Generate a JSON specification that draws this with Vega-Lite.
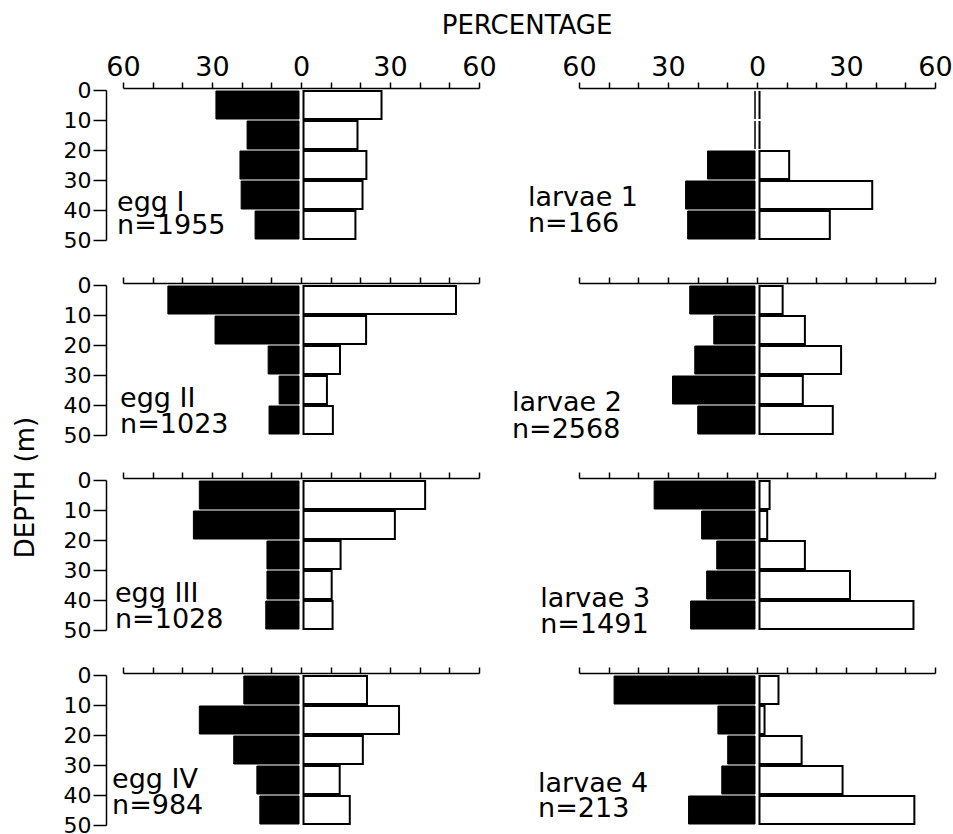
{
  "$schema": "https://vega.github.io/schema/vega-lite/v6.json",
  "background": "white",
  "padding": {"left": 12, "top": 13, "right": 5, "bottom": 5},
  "title": {"text": "PERCENTAGE", "font": "DejaVu Sans", "fontSize": 26, "fontWeight": "normal", "color": "black", "anchor": "middle", "frame": "bounds", "dx": 45, "offset": 14},
  "config": {
    "view": {"stroke": null},
    "font": "DejaVu Sans",
    "axis": {"domainColor": "black", "tickColor": "black", "labelColor": "black", "titleColor": "black", "labelFont": "DejaVu Sans", "titleFont": "DejaVu Sans", "titleFontWeight": "normal", "grid": false, "domainWidth": 1.5, "tickWidth": 1.5, "labelOverlap": false}
  },
  "datasets": {
    "bars": [
      {"panel": "egg I", "series": "filled", "top": 0, "bottom": 10, "pct": 28.0},
      {"panel": "egg I", "series": "filled", "top": 10, "bottom": 20, "pct": 17.5},
      {"panel": "egg I", "series": "filled", "top": 20, "bottom": 30, "pct": 19.9},
      {"panel": "egg I", "series": "filled", "top": 30, "bottom": 40, "pct": 19.5},
      {"panel": "egg I", "series": "filled", "top": 40, "bottom": 50, "pct": 14.8},
      {"panel": "egg I", "series": "open", "top": 0, "bottom": 10, "pct": 26.3},
      {"panel": "egg I", "series": "open", "top": 10, "bottom": 20, "pct": 18.2},
      {"panel": "egg I", "series": "open", "top": 20, "bottom": 30, "pct": 21.2},
      {"panel": "egg I", "series": "open", "top": 30, "bottom": 40, "pct": 19.9},
      {"panel": "egg I", "series": "open", "top": 40, "bottom": 50, "pct": 17.5},
      {"panel": "egg II", "series": "filled", "top": 0, "bottom": 10, "pct": 44.2},
      {"panel": "egg II", "series": "filled", "top": 10, "bottom": 20, "pct": 28.3},
      {"panel": "egg II", "series": "filled", "top": 20, "bottom": 30, "pct": 10.4},
      {"panel": "egg II", "series": "filled", "top": 30, "bottom": 40, "pct": 6.7},
      {"panel": "egg II", "series": "filled", "top": 40, "bottom": 50, "pct": 10.1},
      {"panel": "egg II", "series": "open", "top": 0, "bottom": 10, "pct": 51.4},
      {"panel": "egg II", "series": "open", "top": 10, "bottom": 20, "pct": 21.1},
      {"panel": "egg II", "series": "open", "top": 20, "bottom": 30, "pct": 12.3},
      {"panel": "egg II", "series": "open", "top": 30, "bottom": 40, "pct": 7.9},
      {"panel": "egg II", "series": "open", "top": 40, "bottom": 50, "pct": 9.9},
      {"panel": "egg III", "series": "filled", "top": 0, "bottom": 10, "pct": 33.6},
      {"panel": "egg III", "series": "filled", "top": 10, "bottom": 20, "pct": 35.6},
      {"panel": "egg III", "series": "filled", "top": 20, "bottom": 30, "pct": 10.8},
      {"panel": "egg III", "series": "filled", "top": 30, "bottom": 40, "pct": 10.8},
      {"panel": "egg III", "series": "filled", "top": 40, "bottom": 50, "pct": 11.2},
      {"panel": "egg III", "series": "open", "top": 0, "bottom": 10, "pct": 41.0},
      {"panel": "egg III", "series": "open", "top": 10, "bottom": 20, "pct": 30.8},
      {"panel": "egg III", "series": "open", "top": 20, "bottom": 30, "pct": 12.5},
      {"panel": "egg III", "series": "open", "top": 30, "bottom": 40, "pct": 9.5},
      {"panel": "egg III", "series": "open", "top": 40, "bottom": 50, "pct": 9.8},
      {"panel": "egg IV", "series": "filled", "top": 0, "bottom": 10, "pct": 18.6},
      {"panel": "egg IV", "series": "filled", "top": 10, "bottom": 20, "pct": 33.6},
      {"panel": "egg IV", "series": "filled", "top": 20, "bottom": 30, "pct": 22.0},
      {"panel": "egg IV", "series": "filled", "top": 30, "bottom": 40, "pct": 14.2},
      {"panel": "egg IV", "series": "filled", "top": 40, "bottom": 50, "pct": 13.2},
      {"panel": "egg IV", "series": "open", "top": 0, "bottom": 10, "pct": 21.4},
      {"panel": "egg IV", "series": "open", "top": 10, "bottom": 20, "pct": 32.2},
      {"panel": "egg IV", "series": "open", "top": 20, "bottom": 30, "pct": 20.0},
      {"panel": "egg IV", "series": "open", "top": 30, "bottom": 40, "pct": 12.2},
      {"panel": "egg IV", "series": "open", "top": 40, "bottom": 50, "pct": 15.6},
      {"panel": "larvae 1", "series": "filled", "top": 0, "bottom": 10, "pct": 0},
      {"panel": "larvae 1", "series": "filled", "top": 10, "bottom": 20, "pct": 0},
      {"panel": "larvae 1", "series": "filled", "top": 20, "bottom": 30, "pct": 16.0},
      {"panel": "larvae 1", "series": "filled", "top": 30, "bottom": 40, "pct": 23.4},
      {"panel": "larvae 1", "series": "filled", "top": 40, "bottom": 50, "pct": 22.7},
      {"panel": "larvae 1", "series": "open", "top": 0, "bottom": 10, "pct": 0},
      {"panel": "larvae 1", "series": "open", "top": 10, "bottom": 20, "pct": 0},
      {"panel": "larvae 1", "series": "open", "top": 20, "bottom": 30, "pct": 10.0},
      {"panel": "larvae 1", "series": "open", "top": 30, "bottom": 40, "pct": 38.0},
      {"panel": "larvae 1", "series": "open", "top": 40, "bottom": 50, "pct": 23.7},
      {"panel": "larvae 2", "series": "filled", "top": 0, "bottom": 10, "pct": 22.0},
      {"panel": "larvae 2", "series": "filled", "top": 10, "bottom": 20, "pct": 13.9},
      {"panel": "larvae 2", "series": "filled", "top": 20, "bottom": 30, "pct": 20.3},
      {"panel": "larvae 2", "series": "filled", "top": 30, "bottom": 40, "pct": 27.8},
      {"panel": "larvae 2", "series": "filled", "top": 40, "bottom": 50, "pct": 19.3},
      {"panel": "larvae 2", "series": "open", "top": 0, "bottom": 10, "pct": 7.8},
      {"panel": "larvae 2", "series": "open", "top": 10, "bottom": 20, "pct": 15.3},
      {"panel": "larvae 2", "series": "open", "top": 20, "bottom": 30, "pct": 27.5},
      {"panel": "larvae 2", "series": "open", "top": 30, "bottom": 40, "pct": 14.6},
      {"panel": "larvae 2", "series": "open", "top": 40, "bottom": 50, "pct": 24.7},
      {"panel": "larvae 3", "series": "filled", "top": 0, "bottom": 10, "pct": 34.0},
      {"panel": "larvae 3", "series": "filled", "top": 10, "bottom": 20, "pct": 18.0},
      {"panel": "larvae 3", "series": "filled", "top": 20, "bottom": 30, "pct": 12.9},
      {"panel": "larvae 3", "series": "filled", "top": 30, "bottom": 40, "pct": 16.3},
      {"panel": "larvae 3", "series": "filled", "top": 40, "bottom": 50, "pct": 21.7},
      {"panel": "larvae 3", "series": "open", "top": 0, "bottom": 10, "pct": 3.4},
      {"panel": "larvae 3", "series": "open", "top": 10, "bottom": 20, "pct": 2.6},
      {"panel": "larvae 3", "series": "open", "top": 20, "bottom": 30, "pct": 15.3},
      {"panel": "larvae 3", "series": "open", "top": 30, "bottom": 40, "pct": 30.5},
      {"panel": "larvae 3", "series": "open", "top": 40, "bottom": 50, "pct": 51.9},
      {"panel": "larvae 4", "series": "filled", "top": 0, "bottom": 10, "pct": 47.5},
      {"panel": "larvae 4", "series": "filled", "top": 10, "bottom": 20, "pct": 12.5},
      {"panel": "larvae 4", "series": "filled", "top": 20, "bottom": 30, "pct": 9.2},
      {"panel": "larvae 4", "series": "filled", "top": 30, "bottom": 40, "pct": 11.2},
      {"panel": "larvae 4", "series": "filled", "top": 40, "bottom": 50, "pct": 22.4},
      {"panel": "larvae 4", "series": "open", "top": 0, "bottom": 10, "pct": 6.4},
      {"panel": "larvae 4", "series": "open", "top": 10, "bottom": 20, "pct": 1.7},
      {"panel": "larvae 4", "series": "open", "top": 20, "bottom": 30, "pct": 14.2},
      {"panel": "larvae 4", "series": "open", "top": 30, "bottom": 40, "pct": 28.0},
      {"panel": "larvae 4", "series": "open", "top": 40, "bottom": 50, "pct": 52.2}
    ],
    "labels": [
      {"panel": "egg I", "name": "egg  I", "n": "n=1955"},
      {"panel": "egg II", "name": "egg  II", "n": "n=1023"},
      {"panel": "egg III", "name": "egg  III", "n": "n=1028"},
      {"panel": "egg IV", "name": "egg  IV", "n": "n=984"},
      {"panel": "larvae 1", "name": "larvae  1", "n": "n=166"},
      {"panel": "larvae 2", "name": "larvae  2", "n": "n=2568"},
      {"panel": "larvae 3", "name": "larvae  3", "n": "n=1491"},
      {"panel": "larvae 4", "name": "larvae  4", "n": "n=213"}
    ]
  },
  "columns": 2,
  "spacing": {"row": 45, "column": 100},
  "bounds": "flush",
  "concat": [
    {
      "width": 356, "height": 150,
      "layer": [
        {"data": {"name": "bars"}, "transform": [{"filter": "datum.panel === 'egg I' && datum.series === 'filled'"}],
         "mark": {"type": "bar", "fill": "black", "stroke": "black", "strokeWidth": 1, "xOffset": -2, "x2Offset": -2, "yOffset": 1, "y2Offset": -1},
         "encoding": {"x": {"field": "pct", "type": "quantitative", "scale": {"domain": [-60, 60], "reverse": true}, "axis": null}, "x2": {"datum": 0},
           "y": {"field": "top", "type": "quantitative", "scale": {"domain": [0, 50], "reverse": true}, "axis": {"orient": "left", "offset": 17, "values": [0, 10, 20, 30, 40, 50], "tickSize": 13, "labelPadding": 2, "labelFontSize": 22, "title": null}}, "y2": {"field": "bottom"}}},
        {"data": {"name": "bars"}, "transform": [{"filter": "datum.panel === 'egg I' && datum.series === 'open'"}],
         "mark": {"type": "bar", "fill": "white", "stroke": "black", "strokeWidth": 2, "xOffset": 2.5, "x2Offset": 2.5, "yOffset": 1, "y2Offset": -1},
         "encoding": {"x": {"field": "pct", "type": "quantitative", "scale": {"domain": [-60, 60]}, "axis": {"orient": "top", "offset": 2, "values": [-60, -50, -40, -30, -20, -10, 0, 10, 20, 30, 40, 50, 60], "labelExpr": "datum.value % 30 === 0 ? format(abs(datum.value), 'd') : ''", "tickSize": 6, "labelPadding": 1, "labelFontSize": 27, "labelFlush": false, "title": null}}, "x2": {"datum": 0},
           "y": {"field": "top", "type": "quantitative", "axis": {"orient": "left", "offset": 17, "values": [0, 10, 20, 30, 40, 50], "tickSize": 13, "labelPadding": 2, "labelFontSize": 22, "title": null}}, "y2": {"field": "bottom"}}},
        {"data": {"name": "labels"}, "transform": [{"filter": "datum.panel === 'egg I'"}],
         "mark": {"type": "text", "align": "left", "baseline": "middle", "fontSize": 27, "font": "DejaVu Sans", "color": "black"},
         "encoding": {"x": {"datum": -62, "type": "quantitative", "scale": {"domain": [-60, 60]}, "axis": null}, "y": {"datum": 37.6, "type": "quantitative", "axis": {"orient": "left", "offset": 17, "values": [0, 10, 20, 30, 40, 50], "tickSize": 13, "labelPadding": 2, "labelFontSize": 22, "title": null}}, "text": {"field": "name"}}},
        {"data": {"name": "labels"}, "transform": [{"filter": "datum.panel === 'egg I'"}],
         "mark": {"type": "text", "align": "left", "baseline": "middle", "fontSize": 27, "font": "DejaVu Sans", "color": "black"},
         "encoding": {"x": {"datum": -62, "type": "quantitative", "scale": {"domain": [-60, 60]}, "axis": null}, "y": {"datum": 45.3, "type": "quantitative", "axis": {"orient": "left", "offset": 17, "values": [0, 10, 20, 30, 40, 50], "tickSize": 13, "labelPadding": 2, "labelFontSize": 22, "title": null}}, "text": {"field": "n"}}}
      ],
      "resolve": {"scale": {"x": "independent"}}
    },
    {
      "width": 356, "height": 150,
      "layer": [
        {"data": {"name": "bars"}, "transform": [{"filter": "datum.panel === 'larvae 1' && datum.series === 'filled'"}],
         "mark": {"type": "bar", "fill": "black", "stroke": "black", "strokeWidth": 1, "xOffset": -2, "x2Offset": -2, "yOffset": 1, "y2Offset": -1},
         "encoding": {"x": {"field": "pct", "type": "quantitative", "scale": {"domain": [-60, 60], "reverse": true}, "axis": null}, "x2": {"datum": 0},
           "y": {"field": "top", "type": "quantitative", "scale": {"domain": [0, 50], "reverse": true}, "axis": null}, "y2": {"field": "bottom"}}},
        {"data": {"name": "bars"}, "transform": [{"filter": "datum.panel === 'larvae 1' && datum.series === 'open'"}],
         "mark": {"type": "bar", "fill": "white", "stroke": "black", "strokeWidth": 2, "xOffset": 2.5, "x2Offset": 2.5, "yOffset": 1, "y2Offset": -1},
         "encoding": {"x": {"field": "pct", "type": "quantitative", "scale": {"domain": [-60, 60]}, "axis": {"orient": "top", "offset": 2, "values": [-60, -50, -40, -30, -20, -10, 0, 10, 20, 30, 40, 50, 60], "labelExpr": "datum.value % 30 === 0 ? format(abs(datum.value), 'd') : ''", "tickSize": 6, "labelPadding": 1, "labelFontSize": 27, "labelFlush": false, "title": null}}, "x2": {"datum": 0},
           "y": {"field": "top", "type": "quantitative", "axis": null}, "y2": {"field": "bottom"}}},
        {"data": {"name": "labels"}, "transform": [{"filter": "datum.panel === 'larvae 1'"}],
         "mark": {"type": "text", "align": "left", "baseline": "middle", "fontSize": 27, "font": "DejaVu Sans", "color": "black"},
         "encoding": {"x": {"datum": -77.2, "type": "quantitative", "scale": {"domain": [-60, 60]}, "axis": null}, "y": {"datum": 36, "type": "quantitative", "axis": null}, "text": {"field": "name"}}},
        {"data": {"name": "labels"}, "transform": [{"filter": "datum.panel === 'larvae 1'"}],
         "mark": {"type": "text", "align": "left", "baseline": "middle", "fontSize": 27, "font": "DejaVu Sans", "color": "black"},
         "encoding": {"x": {"datum": -77.2, "type": "quantitative", "scale": {"domain": [-60, 60]}, "axis": null}, "y": {"datum": 44.7, "type": "quantitative", "axis": null}, "text": {"field": "n"}}}
      ],
      "resolve": {"scale": {"x": "independent"}}
    },
    {
      "width": 356, "height": 150,
      "layer": [
        {"data": {"name": "bars"}, "transform": [{"filter": "datum.panel === 'egg II' && datum.series === 'filled'"}],
         "mark": {"type": "bar", "fill": "black", "stroke": "black", "strokeWidth": 1, "xOffset": -2, "x2Offset": -2, "yOffset": 1, "y2Offset": -1},
         "encoding": {"x": {"field": "pct", "type": "quantitative", "scale": {"domain": [-60, 60], "reverse": true}, "axis": null}, "x2": {"datum": 0},
           "y": {"field": "top", "type": "quantitative", "scale": {"domain": [0, 50], "reverse": true}, "axis": {"orient": "left", "offset": 17, "values": [0, 10, 20, 30, 40, 50], "tickSize": 13, "labelPadding": 2, "labelFontSize": 22, "title": "DEPTH (m)", "titleFontSize": 26, "titleAngle": 270, "titleX": -73, "titleY": 202, "titleBaseline": "alphabetic", "titleAlign": "center"}}, "y2": {"field": "bottom"}}},
        {"data": {"name": "bars"}, "transform": [{"filter": "datum.panel === 'egg II' && datum.series === 'open'"}],
         "mark": {"type": "bar", "fill": "white", "stroke": "black", "strokeWidth": 2, "xOffset": 2.5, "x2Offset": 2.5, "yOffset": 1, "y2Offset": -1},
         "encoding": {"x": {"field": "pct", "type": "quantitative", "scale": {"domain": [-60, 60]}, "axis": {"orient": "top", "offset": 2, "values": [-60, -50, -40, -30, -20, -10, 0, 10, 20, 30, 40, 50, 60], "tickSize": 6, "labels": false, "title": null}}, "x2": {"datum": 0},
           "y": {"field": "top", "type": "quantitative", "axis": {"orient": "left", "offset": 17, "values": [0, 10, 20, 30, 40, 50], "tickSize": 13, "labelPadding": 2, "labelFontSize": 22, "title": "DEPTH (m)", "titleFontSize": 26, "titleAngle": 270, "titleX": -73, "titleY": 202, "titleBaseline": "alphabetic", "titleAlign": "center"}}, "y2": {"field": "bottom"}}},
        {"data": {"name": "labels"}, "transform": [{"filter": "datum.panel === 'egg II'"}],
         "mark": {"type": "text", "align": "left", "baseline": "middle", "fontSize": 27, "font": "DejaVu Sans", "color": "black"},
         "encoding": {"x": {"datum": -61, "type": "quantitative", "scale": {"domain": [-60, 60]}, "axis": null}, "y": {"datum": 38.0, "type": "quantitative", "axis": {"orient": "left", "offset": 17, "values": [0, 10, 20, 30, 40, 50], "tickSize": 13, "labelPadding": 2, "labelFontSize": 22, "title": "DEPTH (m)", "titleFontSize": 26, "titleAngle": 270, "titleX": -73, "titleY": 202, "titleBaseline": "alphabetic", "titleAlign": "center"}}, "text": {"field": "name"}}},
        {"data": {"name": "labels"}, "transform": [{"filter": "datum.panel === 'egg II'"}],
         "mark": {"type": "text", "align": "left", "baseline": "middle", "fontSize": 27, "font": "DejaVu Sans", "color": "black"},
         "encoding": {"x": {"datum": -61, "type": "quantitative", "scale": {"domain": [-60, 60]}, "axis": null}, "y": {"datum": 46.5, "type": "quantitative", "axis": {"orient": "left", "offset": 17, "values": [0, 10, 20, 30, 40, 50], "tickSize": 13, "labelPadding": 2, "labelFontSize": 22, "title": "DEPTH (m)", "titleFontSize": 26, "titleAngle": 270, "titleX": -73, "titleY": 202, "titleBaseline": "alphabetic", "titleAlign": "center"}}, "text": {"field": "n"}}}
      ],
      "resolve": {"scale": {"x": "independent"}}
    },
    {
      "width": 356, "height": 150,
      "layer": [
        {"data": {"name": "bars"}, "transform": [{"filter": "datum.panel === 'larvae 2' && datum.series === 'filled'"}],
         "mark": {"type": "bar", "fill": "black", "stroke": "black", "strokeWidth": 1, "xOffset": -2, "x2Offset": -2, "yOffset": 1, "y2Offset": -1},
         "encoding": {"x": {"field": "pct", "type": "quantitative", "scale": {"domain": [-60, 60], "reverse": true}, "axis": null}, "x2": {"datum": 0},
           "y": {"field": "top", "type": "quantitative", "scale": {"domain": [0, 50], "reverse": true}, "axis": null}, "y2": {"field": "bottom"}}},
        {"data": {"name": "bars"}, "transform": [{"filter": "datum.panel === 'larvae 2' && datum.series === 'open'"}],
         "mark": {"type": "bar", "fill": "white", "stroke": "black", "strokeWidth": 2, "xOffset": 2.5, "x2Offset": 2.5, "yOffset": 1, "y2Offset": -1},
         "encoding": {"x": {"field": "pct", "type": "quantitative", "scale": {"domain": [-60, 60]}, "axis": {"orient": "top", "offset": 2, "values": [-60, -50, -40, -30, -20, -10, 0, 10, 20, 30, 40, 50, 60], "tickSize": 6, "labels": false, "title": null}}, "x2": {"datum": 0},
           "y": {"field": "top", "type": "quantitative", "axis": null}, "y2": {"field": "bottom"}}},
        {"data": {"name": "labels"}, "transform": [{"filter": "datum.panel === 'larvae 2'"}],
         "mark": {"type": "text", "align": "left", "baseline": "middle", "fontSize": 27, "font": "DejaVu Sans", "color": "black"},
         "encoding": {"x": {"datum": -82.6, "type": "quantitative", "scale": {"domain": [-60, 60]}, "axis": null}, "y": {"datum": 39.3, "type": "quantitative", "axis": null}, "text": {"field": "name"}}},
        {"data": {"name": "labels"}, "transform": [{"filter": "datum.panel === 'larvae 2'"}],
         "mark": {"type": "text", "align": "left", "baseline": "middle", "fontSize": 27, "font": "DejaVu Sans", "color": "black"},
         "encoding": {"x": {"datum": -82.6, "type": "quantitative", "scale": {"domain": [-60, 60]}, "axis": null}, "y": {"datum": 48.2, "type": "quantitative", "axis": null}, "text": {"field": "n"}}}
      ],
      "resolve": {"scale": {"x": "independent"}}
    },
    {
      "width": 356, "height": 150,
      "layer": [
        {"data": {"name": "bars"}, "transform": [{"filter": "datum.panel === 'egg III' && datum.series === 'filled'"}],
         "mark": {"type": "bar", "fill": "black", "stroke": "black", "strokeWidth": 1, "xOffset": -2, "x2Offset": -2, "yOffset": 1, "y2Offset": -1},
         "encoding": {"x": {"field": "pct", "type": "quantitative", "scale": {"domain": [-60, 60], "reverse": true}, "axis": null}, "x2": {"datum": 0},
           "y": {"field": "top", "type": "quantitative", "scale": {"domain": [0, 50], "reverse": true}, "axis": {"orient": "left", "offset": 17, "values": [0, 10, 20, 30, 40, 50], "tickSize": 13, "labelPadding": 2, "labelFontSize": 22, "title": null}}, "y2": {"field": "bottom"}}},
        {"data": {"name": "bars"}, "transform": [{"filter": "datum.panel === 'egg III' && datum.series === 'open'"}],
         "mark": {"type": "bar", "fill": "white", "stroke": "black", "strokeWidth": 2, "xOffset": 2.5, "x2Offset": 2.5, "yOffset": 1, "y2Offset": -1},
         "encoding": {"x": {"field": "pct", "type": "quantitative", "scale": {"domain": [-60, 60]}, "axis": {"orient": "top", "offset": 2, "values": [-60, -50, -40, -30, -20, -10, 0, 10, 20, 30, 40, 50, 60], "tickSize": 6, "labels": false, "title": null}}, "x2": {"datum": 0},
           "y": {"field": "top", "type": "quantitative", "axis": {"orient": "left", "offset": 17, "values": [0, 10, 20, 30, 40, 50], "tickSize": 13, "labelPadding": 2, "labelFontSize": 22, "title": null}}, "y2": {"field": "bottom"}}},
        {"data": {"name": "labels"}, "transform": [{"filter": "datum.panel === 'egg III'"}],
         "mark": {"type": "text", "align": "left", "baseline": "middle", "fontSize": 27, "font": "DejaVu Sans", "color": "black"},
         "encoding": {"x": {"datum": -62.7, "type": "quantitative", "scale": {"domain": [-60, 60]}, "axis": null}, "y": {"datum": 38.0, "type": "quantitative", "axis": {"orient": "left", "offset": 17, "values": [0, 10, 20, 30, 40, 50], "tickSize": 13, "labelPadding": 2, "labelFontSize": 22, "title": null}}, "text": {"field": "name"}}},
        {"data": {"name": "labels"}, "transform": [{"filter": "datum.panel === 'egg III'"}],
         "mark": {"type": "text", "align": "left", "baseline": "middle", "fontSize": 27, "font": "DejaVu Sans", "color": "black"},
         "encoding": {"x": {"datum": -62.7, "type": "quantitative", "scale": {"domain": [-60, 60]}, "axis": null}, "y": {"datum": 46.5, "type": "quantitative", "axis": {"orient": "left", "offset": 17, "values": [0, 10, 20, 30, 40, 50], "tickSize": 13, "labelPadding": 2, "labelFontSize": 22, "title": null}}, "text": {"field": "n"}}}
      ],
      "resolve": {"scale": {"x": "independent"}}
    },
    {
      "width": 356, "height": 150,
      "layer": [
        {"data": {"name": "bars"}, "transform": [{"filter": "datum.panel === 'larvae 3' && datum.series === 'filled'"}],
         "mark": {"type": "bar", "fill": "black", "stroke": "black", "strokeWidth": 1, "xOffset": -2, "x2Offset": -2, "yOffset": 1, "y2Offset": -1},
         "encoding": {"x": {"field": "pct", "type": "quantitative", "scale": {"domain": [-60, 60], "reverse": true}, "axis": null}, "x2": {"datum": 0},
           "y": {"field": "top", "type": "quantitative", "scale": {"domain": [0, 50], "reverse": true}, "axis": null}, "y2": {"field": "bottom"}}},
        {"data": {"name": "bars"}, "transform": [{"filter": "datum.panel === 'larvae 3' && datum.series === 'open'"}],
         "mark": {"type": "bar", "fill": "white", "stroke": "black", "strokeWidth": 2, "xOffset": 2.5, "x2Offset": 2.5, "yOffset": 1, "y2Offset": -1},
         "encoding": {"x": {"field": "pct", "type": "quantitative", "scale": {"domain": [-60, 60]}, "axis": {"orient": "top", "offset": 2, "values": [-60, -50, -40, -30, -20, -10, 0, 10, 20, 30, 40, 50, 60], "tickSize": 6, "labels": false, "title": null}}, "x2": {"datum": 0},
           "y": {"field": "top", "type": "quantitative", "axis": null}, "y2": {"field": "bottom"}}},
        {"data": {"name": "labels"}, "transform": [{"filter": "datum.panel === 'larvae 3'"}],
         "mark": {"type": "text", "align": "left", "baseline": "middle", "fontSize": 27, "font": "DejaVu Sans", "color": "black"},
         "encoding": {"x": {"datum": -73.1, "type": "quantitative", "scale": {"domain": [-60, 60]}, "axis": null}, "y": {"datum": 39.5, "type": "quantitative", "axis": null}, "text": {"field": "name"}}},
        {"data": {"name": "labels"}, "transform": [{"filter": "datum.panel === 'larvae 3'"}],
         "mark": {"type": "text", "align": "left", "baseline": "middle", "fontSize": 27, "font": "DejaVu Sans", "color": "black"},
         "encoding": {"x": {"datum": -73.1, "type": "quantitative", "scale": {"domain": [-60, 60]}, "axis": null}, "y": {"datum": 48.3, "type": "quantitative", "axis": null}, "text": {"field": "n"}}}
      ],
      "resolve": {"scale": {"x": "independent"}}
    },
    {
      "width": 356, "height": 150,
      "layer": [
        {"data": {"name": "bars"}, "transform": [{"filter": "datum.panel === 'egg IV' && datum.series === 'filled'"}],
         "mark": {"type": "bar", "fill": "black", "stroke": "black", "strokeWidth": 1, "xOffset": -2, "x2Offset": -2, "yOffset": 1, "y2Offset": -1},
         "encoding": {"x": {"field": "pct", "type": "quantitative", "scale": {"domain": [-60, 60], "reverse": true}, "axis": null}, "x2": {"datum": 0},
           "y": {"field": "top", "type": "quantitative", "scale": {"domain": [0, 50], "reverse": true}, "axis": {"orient": "left", "offset": 17, "values": [0, 10, 20, 30, 40, 50], "tickSize": 13, "labelPadding": 2, "labelFontSize": 22, "title": null}}, "y2": {"field": "bottom"}}},
        {"data": {"name": "bars"}, "transform": [{"filter": "datum.panel === 'egg IV' && datum.series === 'open'"}],
         "mark": {"type": "bar", "fill": "white", "stroke": "black", "strokeWidth": 2, "xOffset": 2.5, "x2Offset": 2.5, "yOffset": 1, "y2Offset": -1},
         "encoding": {"x": {"field": "pct", "type": "quantitative", "scale": {"domain": [-60, 60]}, "axis": {"orient": "top", "offset": 2, "values": [-60, -50, -40, -30, -20, -10, 0, 10, 20, 30, 40, 50, 60], "tickSize": 6, "labels": false, "title": null}}, "x2": {"datum": 0},
           "y": {"field": "top", "type": "quantitative", "axis": {"orient": "left", "offset": 17, "values": [0, 10, 20, 30, 40, 50], "tickSize": 13, "labelPadding": 2, "labelFontSize": 22, "title": null}}, "y2": {"field": "bottom"}}},
        {"data": {"name": "labels"}, "transform": [{"filter": "datum.panel === 'egg IV'"}],
         "mark": {"type": "text", "align": "left", "baseline": "middle", "fontSize": 27, "font": "DejaVu Sans", "color": "black"},
         "encoding": {"x": {"datum": -63.7, "type": "quantitative", "scale": {"domain": [-60, 60]}, "axis": null}, "y": {"datum": 35.0, "type": "quantitative", "axis": {"orient": "left", "offset": 17, "values": [0, 10, 20, 30, 40, 50], "tickSize": 13, "labelPadding": 2, "labelFontSize": 22, "title": null}}, "text": {"field": "name"}}},
        {"data": {"name": "labels"}, "transform": [{"filter": "datum.panel === 'egg IV'"}],
         "mark": {"type": "text", "align": "left", "baseline": "middle", "fontSize": 27, "font": "DejaVu Sans", "color": "black"},
         "encoding": {"x": {"datum": -63.7, "type": "quantitative", "scale": {"domain": [-60, 60]}, "axis": null}, "y": {"datum": 43.7, "type": "quantitative", "axis": {"orient": "left", "offset": 17, "values": [0, 10, 20, 30, 40, 50], "tickSize": 13, "labelPadding": 2, "labelFontSize": 22, "title": null}}, "text": {"field": "n"}}}
      ],
      "resolve": {"scale": {"x": "independent"}}
    },
    {
      "width": 356, "height": 150,
      "layer": [
        {"data": {"name": "bars"}, "transform": [{"filter": "datum.panel === 'larvae 4' && datum.series === 'filled'"}],
         "mark": {"type": "bar", "fill": "black", "stroke": "black", "strokeWidth": 1, "xOffset": -2, "x2Offset": -2, "yOffset": 1, "y2Offset": -1},
         "encoding": {"x": {"field": "pct", "type": "quantitative", "scale": {"domain": [-60, 60], "reverse": true}, "axis": null}, "x2": {"datum": 0},
           "y": {"field": "top", "type": "quantitative", "scale": {"domain": [0, 50], "reverse": true}, "axis": null}, "y2": {"field": "bottom"}}},
        {"data": {"name": "bars"}, "transform": [{"filter": "datum.panel === 'larvae 4' && datum.series === 'open'"}],
         "mark": {"type": "bar", "fill": "white", "stroke": "black", "strokeWidth": 2, "xOffset": 2.5, "x2Offset": 2.5, "yOffset": 1, "y2Offset": -1},
         "encoding": {"x": {"field": "pct", "type": "quantitative", "scale": {"domain": [-60, 60]}, "axis": {"orient": "top", "offset": 2, "values": [-60, -50, -40, -30, -20, -10, 0, 10, 20, 30, 40, 50, 60], "tickSize": 6, "labels": false, "title": null}}, "x2": {"datum": 0},
           "y": {"field": "top", "type": "quantitative", "axis": null}, "y2": {"field": "bottom"}}},
        {"data": {"name": "labels"}, "transform": [{"filter": "datum.panel === 'larvae 4'"}],
         "mark": {"type": "text", "align": "left", "baseline": "middle", "fontSize": 27, "font": "DejaVu Sans", "color": "black"},
         "encoding": {"x": {"datum": -73.8, "type": "quantitative", "scale": {"domain": [-60, 60]}, "axis": null}, "y": {"datum": 36.3, "type": "quantitative", "axis": null}, "text": {"field": "name"}}},
        {"data": {"name": "labels"}, "transform": [{"filter": "datum.panel === 'larvae 4'"}],
         "mark": {"type": "text", "align": "left", "baseline": "middle", "fontSize": 27, "font": "DejaVu Sans", "color": "black"},
         "encoding": {"x": {"datum": -73.8, "type": "quantitative", "scale": {"domain": [-60, 60]}, "axis": null}, "y": {"datum": 44.7, "type": "quantitative", "axis": null}, "text": {"field": "n"}}}
      ],
      "resolve": {"scale": {"x": "independent"}}
    }
  ]
}
